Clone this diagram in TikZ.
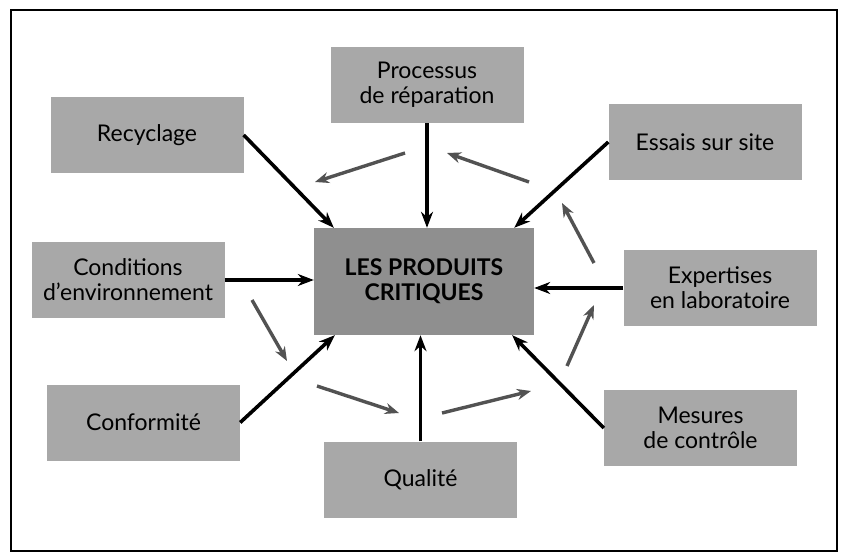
\documentclass[tikz,border=0pt]{standalone}
\usepackage{fontspec}
\setmainfont{Lato}
\usetikzlibrary{arrows.meta,calc}
\begin{document}
\begin{tikzpicture}[x=1pt,y=-1pt,
  box/.style={fill=black!34, draw=none, inner sep=0pt, align=center,
    minimum width=193pt, minimum height=76pt,
    font=\fontsize{23}{25}\selectfont},
  centerbox/.style={box, fill=black!44, minimum width=220pt, minimum height=107pt,
    font=\fontsize{23}{25}\selectfont\bfseries},
  mainarrow/.style={draw=black, line width=3.6pt,
    -{Stealth[length=16pt,width=12pt]}},
  cyclearrow/.style={draw=black!68, line width=3.4pt,
    -{Stealth[length=14pt,width=11pt,fill=black!45]}}
]
\useasboundingbox (0,0) rectangle (846,556);
\draw[line width=1.8pt] (11,10) rectangle (837,551);

\node[box] (proc) at (427,85) {Processus\\de réparation};
\node[box] (rec) at (147,135) {Recyclage};
\node[box] (ess) at (705,142) {Essais sur site};
\node[box] (cond) at (128,280) {Conditions\\d'environnement};
\node[centerbox] (cen) at (424,281.5) {LES PRODUITS\\CRITIQUES};
\node[box] (exp) at (720,288) {Expertises\\en laboratoire};
\node[box] (conf) at (143.5,422.5) {Conformité};
\node[box] (qual) at (420.5,479.5) {Qualité};
\node[box] (mes) at (700.5,428) {Mesures\\de contrôle};

% main arrows into the centre
\draw[mainarrow] (proc.south) -- (cen.north -| proc.south);
\draw[mainarrow] (rec.east) -- ($(cen.north west)+(20,0)$);
\draw[mainarrow] (ess.west) -- ($(cen.north east)+(-20,0)$);
\draw[mainarrow] (cond.east) -- (cen.west |- cond.east);
\draw[mainarrow] (exp.west) -- (cen.east |- exp.west);
\draw[mainarrow] (conf.east) -- ($(cen.south west)+(21,0)$);
\draw[mainarrow] (qual.north) -- (cen.south -| qual.north);
\draw[mainarrow] (mes.west) -- ($(cen.south east)+(-22,0)$);

% cycle arrows
\coordinate (g1a) at (405,153); \coordinate (g1b) at (315,182);
\coordinate (g2a) at (529,182); \coordinate (g2b) at (447,153);
\coordinate (g3a) at (594,263); \coordinate (g3b) at (562,203);
\coordinate (g4a) at (567,366); \coordinate (g4b) at (594,305);
\coordinate (g5a) at (442,413); \coordinate (g5b) at (531,391);
\coordinate (g6a) at (317,386); \coordinate (g6b) at (399,413);
\coordinate (g7a) at (252,300); \coordinate (g7b) at (287,361);
\draw[cyclearrow] (g1a) -- (g1b);
\draw[cyclearrow] (g2a) -- (g2b);
\draw[cyclearrow] (g3a) -- (g3b);
\draw[cyclearrow] (g4a) -- (g4b);
\draw[cyclearrow] (g5a) -- (g5b);
\draw[cyclearrow] (g6a) -- (g6b);
\draw[cyclearrow] (g7a) -- (g7b);
\end{tikzpicture}
\end{document}
